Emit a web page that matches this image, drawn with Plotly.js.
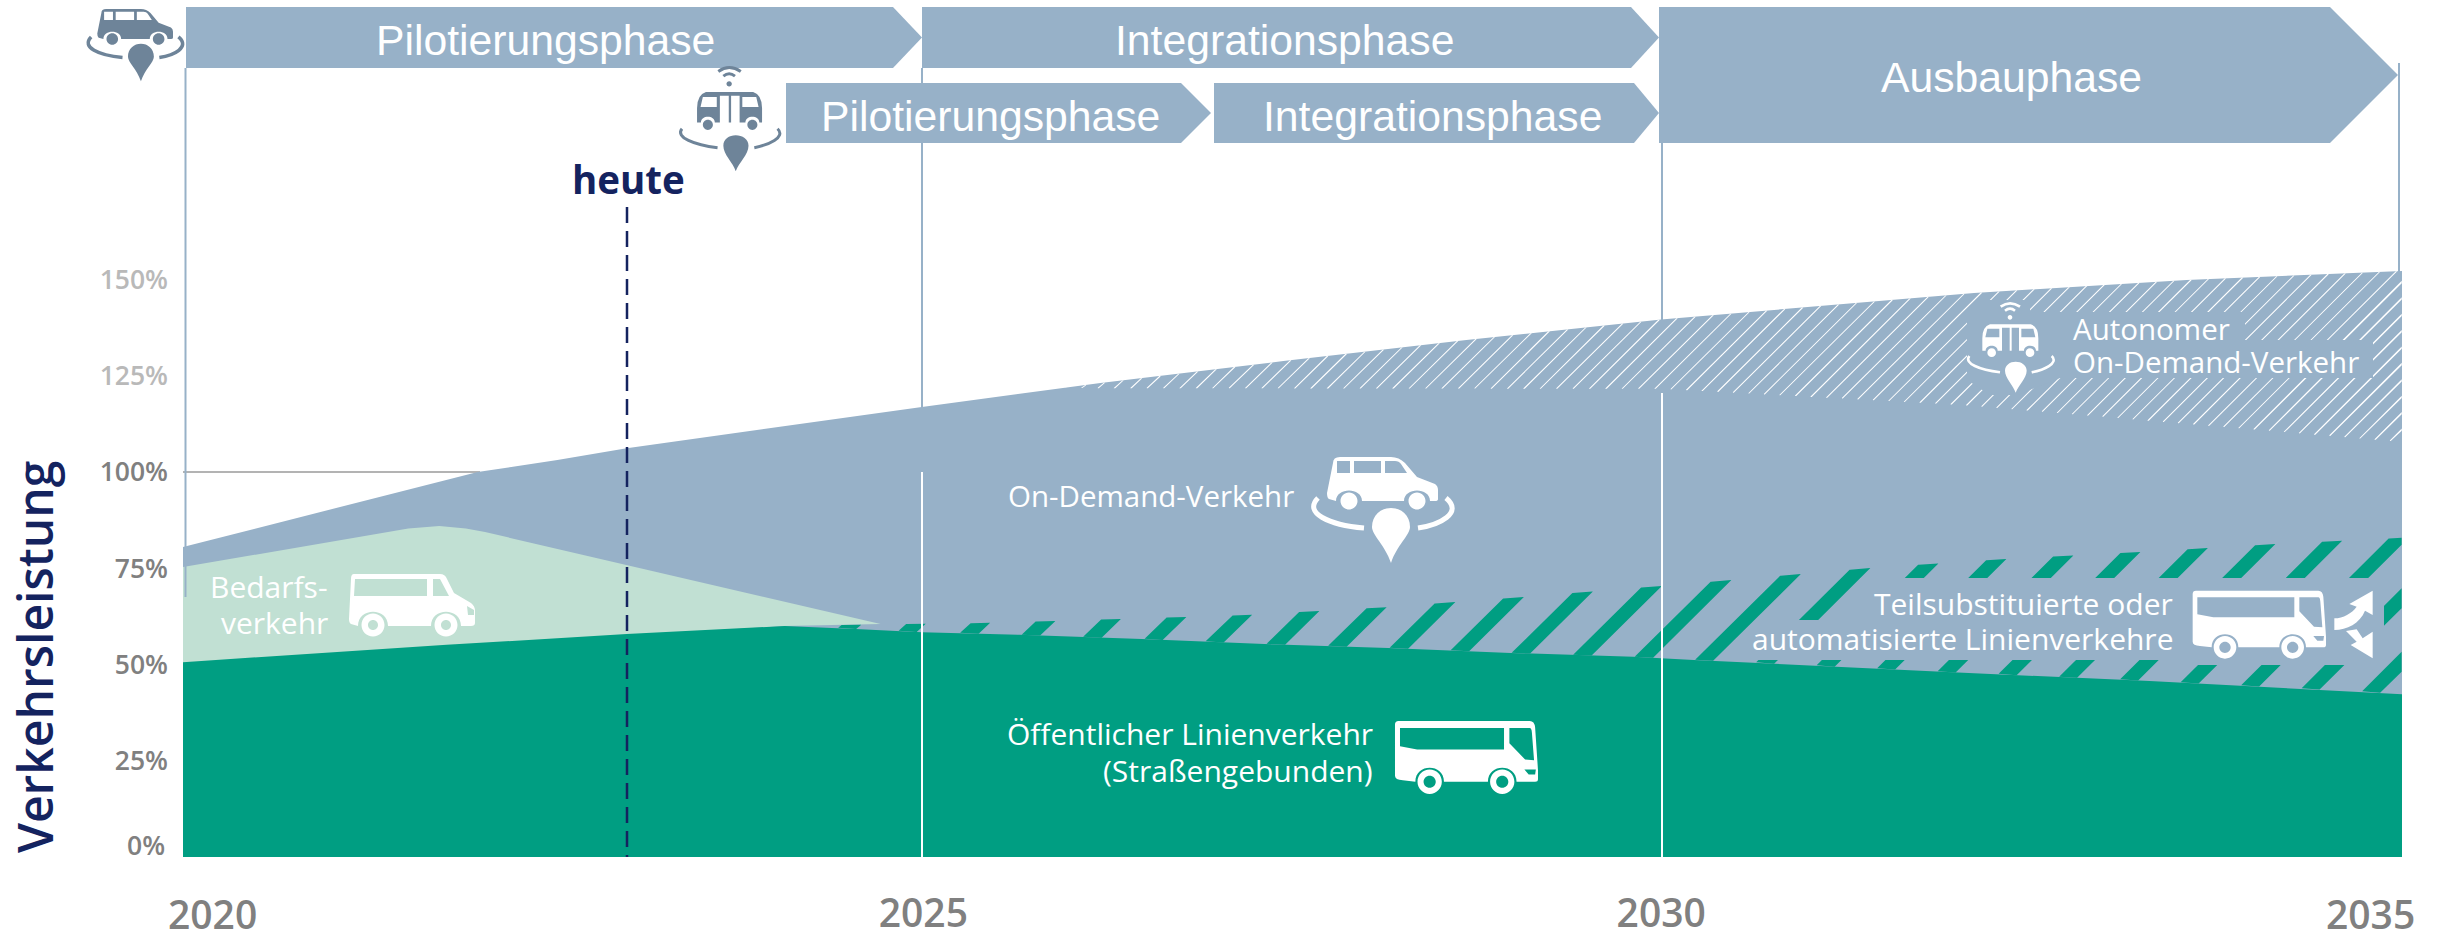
<!DOCTYPE html>
<html><head><meta charset="utf-8">
<script src="https://cdn.plot.ly/plotly-3.0.1.min.js"></script>
<style>html,body{margin:0;padding:0;background:#fff}#c{width:2437px;height:932px}</style>
</head><body><div id="c"></div>
<script>
// ---- values (year, share of traffic volume in %) ----
const onDemandYears = [2019.98,2021.98,2022.52,2022.99,2024.99,2026.20,2027.44,2028.68,2030.0,2032.12,2033.56,2035.02];
const onDemandTop   = [80.5,100,103.1,106.2,116.9,123.1,128.8,134.3,139.6,146.5,149.9,152.2];
const bedarfYears = [2019.98,2021.51,2021.72,2021.90,2022.03,2022.99,2024.71,2024.06,2019.98];
const bedarfEdge  = [75.3,85.3,86,85.3,84.4,75.8,60.5,60,50];
const linienYears = [2019.98,2021.77,2022.99,2024.06,2024.54,2024.99,2025.65,2026.48,2027.31,2028.15,2028.98,2029.81,2030.22,2031.90,2033.31,2034.76,2035.02];
const linienTop   = [50.6,55.1,57.9,60,59.2,58.4,57.7,56.6,55.3,54.3,53,52,51.2,48.1,45.7,42.9,42.3];
const teilYears = [2024.06,2024.84,2025.43,2026.33,2027.22,2028.14,2029.06,2030,2030.95,2031.42,2032.34,2033.25,2034.16,2035.02];
const teilTop   = [60,60.5,60.8,61.8,62.9,64.9,67.5,70.4,73.5,75.1,77.4,79.2,81.3,82.9];
const autoBaseYears = [2025.86,2030,2032.04,2035.02];
const autoBase      = [121.8,121.6,117.4,107.8];
const yTicks = [25,50,75,100,125,150];
const yTickText = ['25%','50%','75%','100%','<span style="color:#b9b9b9">125%</span>','<span style="color:#b9b9b9">150%</span>'];
const xTicks = [2025,2030];
const xTickText = ['2025','2030'];
const phaseNames = ['Pilotierungsphase','Integrationsphase','Pilotierungsphase','Integrationsphase','Ausbauphase'];

// ---- scale of the chart in page pixels ----
const W=2437,H=932,L=183,R=2402,B=857,K=3.85,PX=147.57,X0=185.5;
const px2x=p=>2020+(p-X0)/PX, py2y=p=>(B-p)/K;
const BLUE='#97b1c8',GREEN='#009e82',LIGHT='#c1e0d3',NAVY='#14235f',GREY='#808080',ICON='#6e8499';
// page pixels to plot fractions, for everything drawn around the data
const fx=p=>(p-L)/(R-L), fy=p=>(B-p)/B;

function at(xs,ys,x){ if(x<=xs[0])return ys[0]; for(let i=1;i<xs.length;i++){ if(x<=xs[i]) return ys[i-1]+(ys[i]-ys[i-1])*(x-xs[i-1])/(xs[i]-xs[i-1]); } return ys[ys.length-1]; }
// Diagonal 45 degree bands clipped between two curves, as one gappy filled trace
function bands(loX,loY,hiX,hiY,sum0,period,width,color){
  const xs=[],ys=[]; const xa=Math.max(loX[0],hiX[0]),xb=Math.min(loX[loX.length-1],hiX[hiX.length-1]);
  const pa=X0+(xa-2020)*PX,pb=X0+(xb-2020)*PX;
  const minS=pa+(B-at(hiX,hiY,xa)*K)-width-period, maxS=pb+(B-at(loX,loY,xb)*K)+period;
  let s=sum0+Math.floor((minS-sum0)/period)*period;
  for(;s<maxS;s+=period){
    const up=[],dn=[];
    for(let p=pa;p<=pb+0.01;p+=0.5){
      const yr=px2x(p),top=B-at(hiX,hiY,yr)*K,bot=B-at(loX,loY,yr)*K;
      const a=Math.max(s-p,top),b=Math.min(s+width-p,bot);
      if(a<b){up.push([p,a]);dn.push([p,b]);}
    }
    if(up.length<2)continue;
    dn.reverse();
    const n=xs.length;
    up.concat(dn).forEach(q=>{xs.push(px2x(q[0]));ys.push(py2y(q[1]));});
    xs.push(xs[n]);ys.push(ys[n]);
    xs.push(null);ys.push(null);
  }
  return {x:xs,y:ys,type:'scatter',mode:'lines',fill:'toself',fillcolor:color,line:{width:0},hoverinfo:'skip',connectgaps:false};
}
const area=(x,y,c)=>({x,y,type:'scatter',mode:'lines',fill:'tozeroy',fillcolor:c,line:{width:0,color:c},hoverinfo:'skip'});

const data=[
  area(onDemandYears,onDemandTop,BLUE),
  {x:bedarfYears,y:bedarfEdge,type:'scatter',mode:'lines',fill:'toself',fillcolor:LIGHT,line:{width:0},hoverinfo:'skip'},
  bands(autoBaseYears,autoBase,onDemandYears,onDemandTop,2371,16.4,2.3,'#ffffff'),
  bands(linienYears,linienTop,teilYears,teilTop,2863,63.5,20,GREEN),
  area(linienYears,linienTop,GREEN)
];

// ---- shapes ----
const P=(x,y)=>fx(x)+' '+fy(y);
const poly=pts=>'M'+pts.map(q=>P(q[0],q[1])).join(' L')+' Z';
const shapes=[];
const fillS=(path,color)=>shapes.push({type:'path',xref:'paper',yref:'paper',path,fillcolor:color,line:{width:0},layer:'above'});
const strokeS=(path,color,w)=>shapes.push({type:'path',xref:'paper',yref:'paper',path,fillcolor:'rgba(0,0,0,0)',line:{width:w,color},layer:'above'});
const seg=(x0,y0,x1,y1,color,w,dash,layer)=>shapes.push({type:'line',xref:'paper',yref:'paper',x0:fx(x0),x1:fx(x1),y0:fy(y0),y1:fy(y1),line:{color,width:w,dash:dash||'solid'},layer:layer||'above'});

// 100 % line behind the areas
seg(183,472,480,472,'#9a9a9a',1.6,null,'below');
// blue clearings behind the labels
fillS(poly([[1860,578],[2384,578],[2384,665],[2188,665],[2188,660],[1756,660],[1756,620],[1860,620]]),BLUE);
fillS(poly([[1967,320],[1987,300],[2030,300],[2030,312],[2245,312],[2245,340],[2373,340],[2373,378],[2060,378],[2017,395],[1990,395],[1967,380]]),BLUE);
// year rules
seg(185.5,68,185.5,597,BLUE,2);
seg(922,68,922,409,BLUE,2);
seg(922,472,922,857,'#ffffff',2);
seg(1662,143,1662,320,BLUE,2);
seg(1662,393,1662,857,'#ffffff',2);
seg(2399,63,2399,272,BLUE,2);
// phase arrows: left, shoulder, tip, top, bottom
[[186,893,922,7,68],[922,1631,1659,7,68],[786,1181,1211,83,143],[1214,1634,1659,83,143],[1659,2330,2398,7,143]].forEach(a=>{
  fillS(poly([[a[0],a[3]],[a[1],a[3]],[a[2],(a[3]+a[4])/2],[a[1],a[4]],[a[0],a[4]]]),BLUE);
});
// today marker
seg(627,207,627,857,NAVY,2.5,'16px,8px');

// ---- icons: y-down outlines, placed at (ox,oy) with scale s ----
function tx(tpl,ox,oy,s){
  return tpl.replace(/(-?\d+(?:\.\d+)?) (-?\d+(?:\.\d+)?)/g,(m,a,b)=>P(ox+a*s,oy+b*s));
}
const circle=(cx,cy,r)=>{const k=r*0.5523;return `M${cx-r} ${cy} C${cx-r} ${cy-k} ${cx-k} ${cy-r} ${cx} ${cy-r} C${cx+k} ${cy-r} ${cx+r} ${cy-k} ${cx+r} ${cy} C${cx+r} ${cy+k} ${cx+k} ${cy+r} ${cx} ${cy+r} C${cx-k} ${cy+r} ${cx-r} ${cy+k} ${cx-r} ${cy} Z `;};
const vanSolid='M24 6 Q24 0 31 0 L82 0 Q90 0 96 6 L108 20 L126 27 Q129 29 129 33 L129 42 Q129 44 126 44 L121 44 C121 30 95 30 95 44 L53 44 C53 30 27 30 27 44 L20 42 Q18 41 18 36 Z '
 +'M28 4 L41 4 L41 16 L28 16 Z M45 4 L72 4 L72 16 L45 16 Z M76 4 L86 4 Q90 4 92 7 L98 16 L76 16 Z '+circle(40,44,8.5)+circle(108,44,8.5);
const vanRingA='M9 41 C-6 56 20 68 55 71';
const vanRingB='M137 41 C155 56 130 68 109 71';
const pin='M82 106 C76 88 63 78 63 70 C63 58 72 51 82 51 C92 51 101 58 101 70 C101 78 88 88 82 106 Z';
function vanRing(ox,oy,s,c,w){fillS(tx(vanSolid,ox,oy,s),c);strokeS(tx(vanRingA,ox,oy,s),c,w);strokeS(tx(vanRingB,ox,oy,s),c,w);fillS(tx(pin,ox,oy,s),c);}
const shBody='M97 175 Q97 140 120 133 L242 133 Q265 140 265 175 L265 212 L258 212 C258 192 222 192 222 212 L143 212 C143 192 107 192 107 212 L97 212 Z '
 +'M112 146 L148 146 L148 172 L106 172 Z M214 146 L250 146 L256 172 L214 172 Z M156 143 L179 143 L179 212 L156 212 Z M185 143 L207 143 L207 212 L185 212 Z '+circle(125,218,13)+circle(240,218,13)+circle(180,112,7);
const shPin='M197 338 C190 315 165 295 165 272 C165 255 180 245 197 245 C214 245 230 255 230 272 C230 295 205 315 197 338 Z';
function shuttle(ox,oy,s,c,w){
  fillS(tx(shBody,ox,oy,s),c);fillS(tx(shPin,ox,oy,s),c);
  ['M165 92 Q180 80 195 92','M152 80 Q180 60 210 80','M58 228 C40 250 90 270 150 277','M305 228 C328 250 280 270 245 277'].forEach(d=>strokeS(tx(d,ox,oy,s),c,w));
}
const busBody='M48 62 L415 62 Q428 62 430 80 L438 200 L438 225 Q438 232 430 232 L378 232 C378 180 298 180 298 232 L175 232 C175 180 95 180 95 232 L60 228 Q38 226 38 215 L38 72 Q38 62 48 62 Z '
 +'M52 82 L343 82 L343 142 L100 142 L52 133 Z M358 82 L415 82 Q420 82 421 95 L427 172 L402 170 L358 124 Z M400 198 L432 198 L430 212 L412 212 Z '
 +circle(135,232,34)+circle(135,232,17)+circle(338,232,34)+circle(338,232,17);
function bus(ox,oy,s,c){fillS(tx(busBody,ox,oy,s),c);}
const sprinter='M5 1 L91 1 Q96 1 98 6 L105 20 L122 30 Q126 33 126 38 L126 50 Q126 53 122 53 L112 53 C112 34 82 34 82 53 L39 53 C39 34 9 34 9 53 L2 51 Q0 50 0 46 L2 6 Q2 1 5 1 Z '
 +'M6 6 L78 6 L78 23 L5 23 Z M84 6 L91 6 L100 23 L84 23 Z M118 33 L125 37 L125 42 L119 42 Z '+circle(24,52,11.5)+circle(24,52,5)+circle(97,52,11.5)+circle(97,52,5);
const arrows='M463 145 C490 145 515 130 530 110 L508 102 L578 62 L578 135 L555 122 C540 160 500 180 463 180 Z M498 183 L530 178 L548 205 L578 185 L578 265 L512 225 L530 215 Z';

vanRing(85,9,0.682,ICON,3.5);
vanRing(1309,457,1,'#ffffff',5);
shuttle(659.5,40.5,0.387,ICON,3);
shuttle(1950,280,1/3,'#ffffff',2.6);
bus(1381.4,698.8,0.3575,'#ffffff');
bus(2180,570,1/3,'#ffffff');
fillS(tx(sprinter,349,573,1),'#ffffff');
fillS(tx(arrows,2180,570,1/3),'#ffffff');

// ---- texts ----
const notes=[];
const note=(text,x,y,anchor,size,color,family,weight,extra)=>notes.push(Object.assign({text,x:fx(x),y:fy(y),xref:'paper',yref:'paper',xanchor:anchor,yanchor:'middle',showarrow:false,
  font:{size,color,family,weight:weight||400}},extra||{}));
const ARIAL='"Liberation Sans",Arial,sans-serif',OS='"Open Sans",sans-serif';
[[545,40],[1284,40],[991,116],[1432,116],[2011,77]].forEach((q,i)=>note(phaseNames[i],q[0],q[1],'center',42.7,'#ffffff',ARIAL));
note('heute',628.5,179,'center',38.5,NAVY,OS,700);
note('Verkehrsleistung',34,657,'center',48,NAVY,OS,600,{textangle:-90});
note('Bedarfs-',330,586,'right',30,'#ffffff',OS);
note('verkehr',330,622,'right',30,'#ffffff',OS);
note('On-Demand-Verkehr',1296,496,'right',29.5,'#ffffff',OS);
note('Öffentlicher Linienverkehr',1375,733,'right',30,'#ffffff',OS);
note('(Straßengebunden)',1375,770,'right',30,'#ffffff',OS);
note('Teilsubstituierte oder',2175,603,'right',30,'#ffffff',OS);
note('automatisierte Linienverkehre',2175,638,'right',30,'#ffffff',OS);
note('Autonomer',2071,328,'left',29.5,'#ffffff',OS);
note('On-Demand-Verkehr',2071,362,'left',29.5,'#ffffff',OS);
note('0%',167,845,'right',26.5,GREY,OS,600);
note('2020',212,913,'center',39,GREY,OS,600);
note('2035',2370,913,'center',39,GREY,OS,600);

const layout={
  width:W,height:H,paper_bgcolor:'#fff',plot_bgcolor:'rgba(0,0,0,0)',showlegend:false,
  margin:{l:L,r:W-R,t:0,b:H-B,pad:0},
  xaxis:{range:[px2x(L),px2x(R)],tickmode:'array',tickvals:xTicks,ticktext:xTickText,showgrid:false,zeroline:false,showline:false,ticks:'',
    ticklabelstandoff:30,tickfont:{family:OS,size:39,color:GREY,weight:600}},
  yaxis:{range:[0,B/K],tickmode:'array',tickvals:yTicks,ticktext:yTickText,showgrid:false,zeroline:false,showline:false,ticks:'',
    ticklabelstandoff:14,tickfont:{family:OS,size:26.5,color:GREY,weight:600}},
  shapes,annotations:notes
};
Plotly.newPlot('c',data,layout,{displayModeBar:false,staticPlot:true});
</script></body></html>
